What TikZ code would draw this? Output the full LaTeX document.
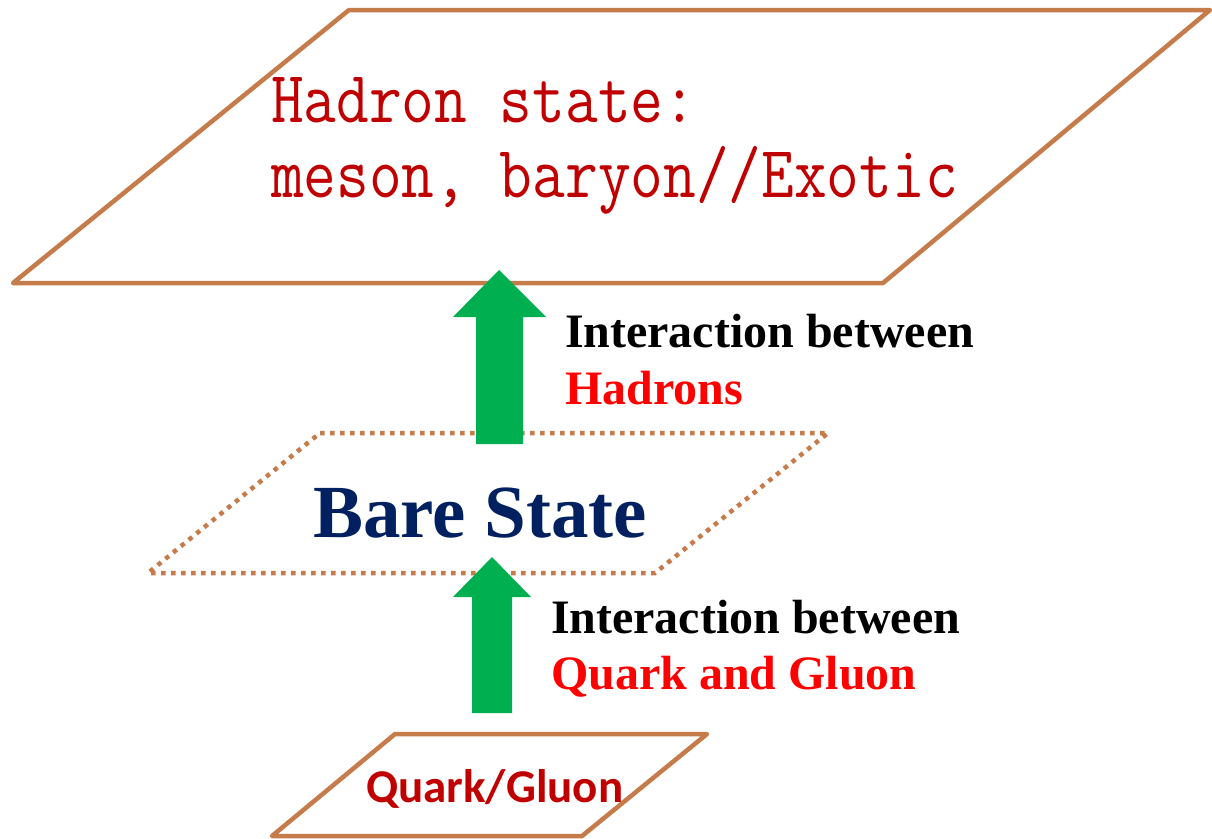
\documentclass[tikz,border=0pt]{standalone}
\usepackage{fontspec}
\setmainfont{Liberation Serif}
\newfontfamily\calfam{Carlito}
\definecolor{frame}{HTML}{C67B4B}
\definecolor{arrowgreen}{HTML}{00B050}
\definecolor{darkred}{HTML}{C00000}
\definecolor{navy}{HTML}{002060}
\definecolor{brightred}{HTML}{FF0000}
\tikzset{
  plane/.style={draw=frame, line width=4.5pt, line join=round, line cap=round},
  dotplane/.style={draw=frame, line width=4.5pt, dash pattern=on 4.5pt off 5.5pt},
  blockarrow/.style={fill=arrowgreen, draw=none},
  txt/.style={inner sep=0pt, outer sep=0pt, anchor=base west},
  labelfont/.style={font=\fontsize{48}{56}\selectfont\bfseries},
  monotext/.style={txt, text=darkred, font=\ttfamily\fontsize{63.5}{66}\selectfont},
}
\begin{document}
\begin{tikzpicture}[x=1pt, y=-1pt]
\useasboundingbox (0,0) rectangle (1212,838);
% planes
\coordinate (t1) at (349,10); \coordinate (t2) at (1210,10);
\coordinate (t3) at (883,283); \coordinate (t4) at (13,283);
\draw[plane] (t1) -- (t2) -- (t3) -- (t4) -- cycle;
\coordinate (m1) at (320,433); \coordinate (m2) at (828,433);
\coordinate (m3) at (655,573); \coordinate (m4) at (148,573);
\draw[dotplane] (m1) -- (m2) -- (m3) -- (m4) -- cycle;
\coordinate (b1) at (395,734); \coordinate (b2) at (707,734);
\coordinate (b3) at (582,836); \coordinate (b4) at (272,836);
\draw[plane] (b1) -- (b2) -- (b3) -- (b4) -- cycle;
% arrows
\fill[blockarrow] (476,444) -- (476,317) -- (453,317) -- (499,270) -- (546,317) -- (523,317) -- (523,444) -- cycle;
\fill[blockarrow] (472,713) -- (472,597) -- (453,597) -- (492,557) -- (531,597) -- (512,597) -- (512,713) -- cycle;
% texts
\node[monotext] (h1) at (271,122) {\scalebox{1}[1.16]{Hadron state:}};
\node[monotext] (h2) at (271,197) {\scalebox{1}[1.16]{meson, baryon//Exotic}};
\node[txt, labelfont] (l1) at (565,347) {Interaction between};
\node[txt, labelfont, text=brightred] (l2) at (565,404) {Hadrons};
\node[txt, text=navy, font=\fontsize{75}{80}\selectfont\bfseries] (bare) at (313,537) {Bare State};
\node[txt, labelfont] (l3) at (551,633) {Interaction between};
\node[txt, labelfont, text=brightred] (l4) at (551,689) {Quark and Gluon};
\node[txt, text=darkred, font=\calfam\fontsize{47}{52}\selectfont\bfseries] (qg) at (366,802) {Quark/Gluon};
\end{tikzpicture}
\end{document}
